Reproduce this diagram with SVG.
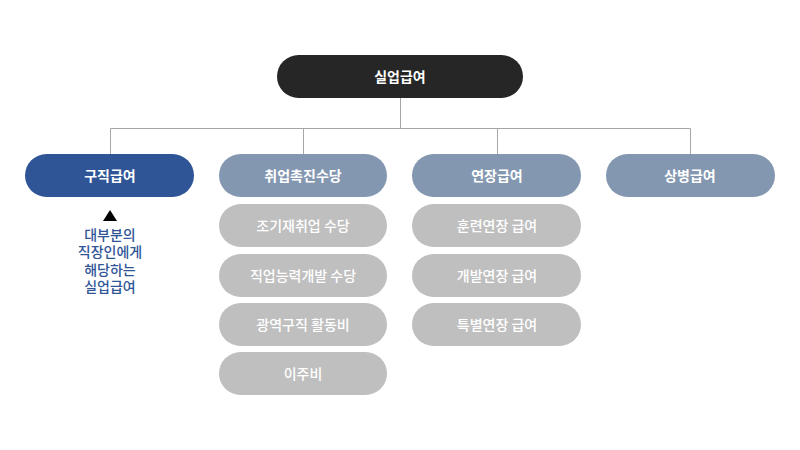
<svg xmlns="http://www.w3.org/2000/svg" width="800" height="450" viewBox="0 0 800 450">
<style>
.lbl{font-family:"Noto Sans CJK KR","Noto Sans",sans-serif;font-size:14px;font-weight:500;fill:#ffffff;text-anchor:middle}
.b{font-weight:bold}
.root rect{fill:#262626}
.main rect{fill:#8497b0}
.sel rect{fill:#2f5597}
.sub rect{fill:#bfbfbf}
.note{font-family:"Noto Sans CJK KR","Noto Sans",sans-serif;font-size:14px;font-weight:500;fill:#2f5597;text-anchor:middle}
.conn{stroke:#a6a6a6;stroke-width:1;fill:none}
</style>
<rect width="800" height="450" fill="#ffffff"/>
<g id="connectors">
<path class="conn" d="M400.5 98V128.5M110.5 128.5H690.5M110.5 128.5V154M303.5 128.5V154M497.5 128.5V154M690.5 128.5V154"/>
</g>
<g id="root" class="root"><rect x="277" y="55" width="246" height="43" rx="21.5"/><text class="lbl b" x="400" y="81.5">실업급여</text></g>
<g id="n1" class="sel"><rect x="25" y="154" width="169" height="43" rx="21.5"/><text class="lbl b" x="110" y="180.5">구직급여</text></g>
<g id="n2" class="main"><rect x="219" y="154" width="168" height="43" rx="21.5"/><text class="lbl b" x="303" y="180.5">취업촉진수당</text></g>
<g id="n3" class="main"><rect x="412" y="154" width="169" height="43" rx="21.5"/><text class="lbl b" x="497" y="180.5">연장급여</text></g>
<g id="n4" class="main"><rect x="606" y="154" width="169" height="43" rx="21.5"/><text class="lbl b" x="690" y="180.5">상병급여</text></g>
<g id="s1" class="sub"><rect x="219" y="204" width="168" height="43" rx="21.5"/><text class="lbl" x="303" y="230.5">조기재취업 수당</text></g>
<g id="s2" class="sub"><rect x="219" y="254" width="168" height="43" rx="21.5"/><text class="lbl" x="303" y="280.5">직업능력개발 수당</text></g>
<g id="s3" class="sub"><rect x="219" y="303" width="168" height="43" rx="21.5"/><text class="lbl" x="303" y="329.5">광역구직 활동비</text></g>
<g id="s4" class="sub"><rect x="219" y="352" width="168" height="43" rx="21.5"/><text class="lbl" x="303" y="378.5">이주비</text></g>
<g id="e1" class="sub"><rect x="412" y="204" width="169" height="43" rx="21.5"/><text class="lbl" x="497" y="230.5">훈련연장 급여</text></g>
<g id="e2" class="sub"><rect x="412" y="254" width="169" height="43" rx="21.5"/><text class="lbl" x="497" y="280.5">개발연장 급여</text></g>
<g id="e3" class="sub"><rect x="412" y="303" width="169" height="43" rx="21.5"/><text class="lbl" x="497" y="329.5">특별연장 급여</text></g>
<g id="note">
<polygon points="110,210 117,221 103,221" fill="#000000"/>
<text class="note" x="110" y="240"><tspan x="110">대부분의</tspan><tspan x="110" dy="17.3">직장인에게</tspan><tspan x="110" dy="17.3">해당하는</tspan><tspan x="110" dy="17.3">실업급여</tspan></text>
</g>
</svg>
